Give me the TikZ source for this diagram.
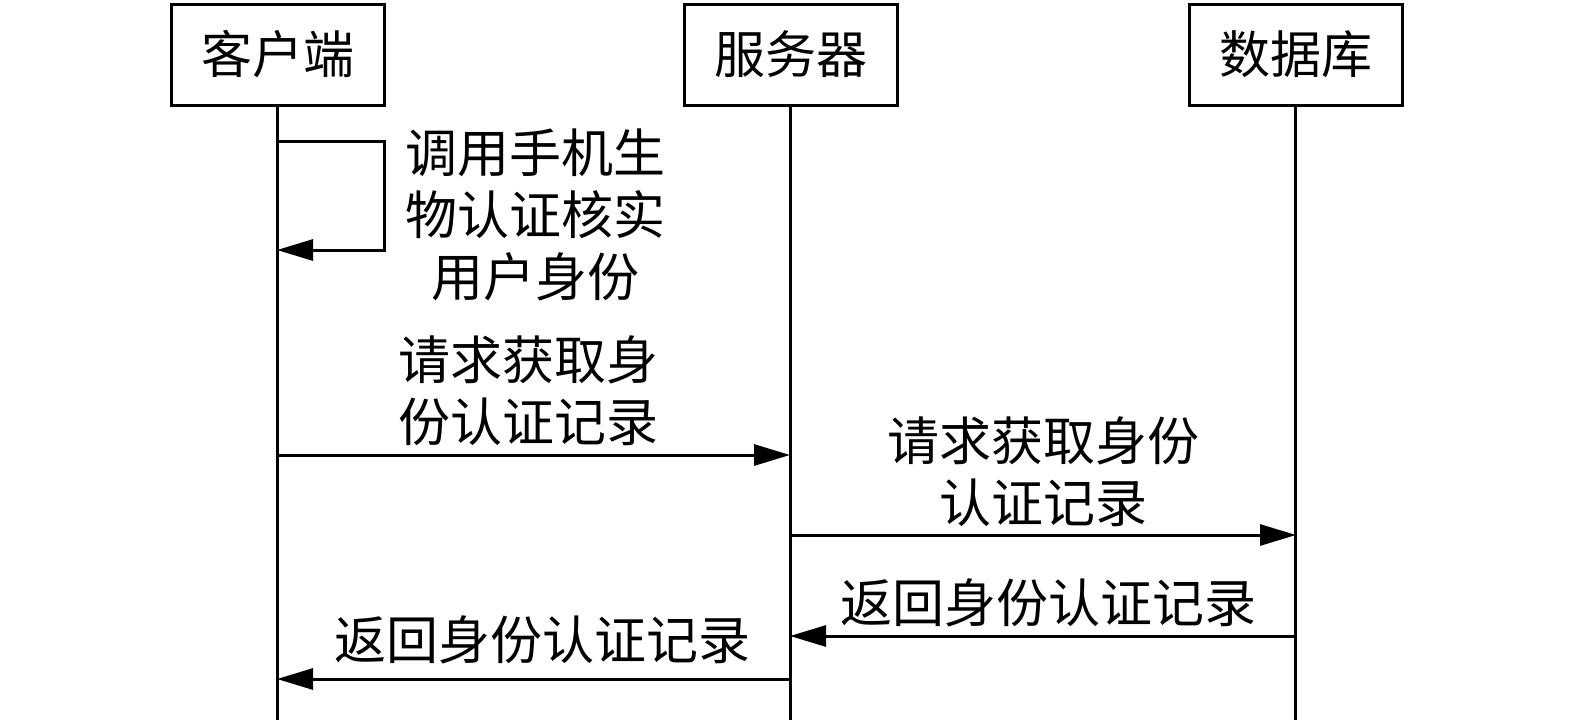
\documentclass[tikz,border=0pt]{standalone}
\usepackage{fontspec}
\setmainfont{Noto Sans CJK SC}
\usetikzlibrary{arrows.meta}
\begin{document}
\begin{tikzpicture}[x=1pt,y=-1pt,
  actor/.style={draw,line width=3pt,minimum width=213pt,minimum height=101pt,inner sep=0pt,font=\fontsize{51}{60}\selectfont},
  lifeline/.style={line width=3pt},
  msg/.style={line width=3pt,-{Triangle[length=36pt,width=21pt]}},
  lbl/.style={align=center,inner sep=0pt,font=\fontsize{52}{62}\selectfont}]
\useasboundingbox (0,0) rectangle (1575,724);
\node[actor] (client) at (277.5,54.5) {客户端};
\node[actor] (server) at (790.5,54.5) {服务器};
\node[actor] (db) at (1295.5,54.5) {数据库};
\coordinate (cEnd) at (277,720);
\coordinate (sEnd) at (790,720);
\coordinate (dEnd) at (1296,720);
\draw[lifeline] (client.south) -- (client.south |- cEnd);
\draw[lifeline] (server.south) -- (server.south |- sEnd);
\draw[lifeline] (db.south) -- (db.south |- dEnd);
% self loop
\coordinate (l1) at (277,141);
\coordinate (l2) at (384,141);
\coordinate (l3) at (384,250);
\coordinate (l4) at (277,250);
\draw[msg] (l1) -- (l2) -- (l3) -- (l4);
\node[lbl] (t0) at (535,215) {调用手机生\\物认证核实\\用户身份};
% message 1
\coordinate (a1) at (277,455);
\coordinate (b1) at (790,455);
\draw[msg] (a1) -- (b1);
\node[lbl] (t1) at (528,391) {请求获取身\\份认证记录};
% message 2
\coordinate (a2) at (790,535);
\coordinate (b2) at (1296,535);
\draw[msg] (a2) -- (b2);
\node[lbl] (t2) at (1043,472) {请求获取身份\\认证记录};
% message 3
\coordinate (a3) at (1296,636);
\coordinate (b3) at (790,636);
\draw[msg] (a3) -- (b3);
\node[lbl] (t3) at (1048,603) {返回身份认证记录};
% message 4
\coordinate (a4) at (790,679);
\coordinate (b4) at (277,679);
\draw[msg] (a4) -- (b4);
\node[lbl] (t4) at (542,640) {返回身份认证记录};
\end{tikzpicture}
\end{document}
